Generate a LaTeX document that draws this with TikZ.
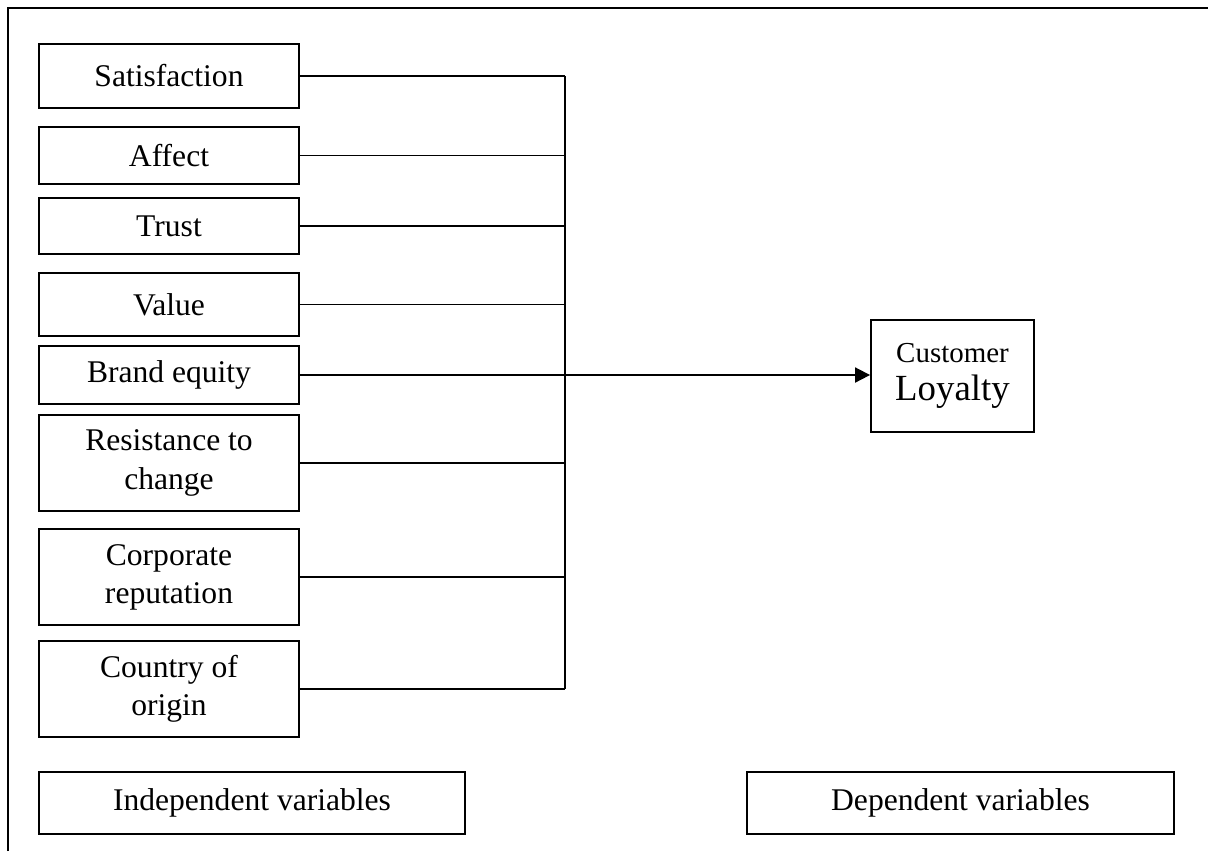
\documentclass[tikz,border=0pt]{standalone}
\usepackage{fontspec}
\setmainfont{Liberation Serif}
\usetikzlibrary{arrows.meta}
\newcommand{\pxu}{0.38pt}

\begin{document}
\begin{tikzpicture}[x=0.38pt,y=-0.38pt,
    every node/.style={inner sep=0pt,align=center,font=\fontsize{12}{14.5}\selectfont},
    var/.style={draw,line width=0.7pt,minimum width=260*\pxu},
    note/.style={draw,line width=0.7pt,minimum height=62*\pxu},
    link/.style={line width=0.7pt},
    >={Triangle[length=5.7pt,width=5.7pt]}]
    \useasboundingbox(0,0)rectangle(1208,851);
    \draw[line width=0.8pt](8,851)--(8,8)--(1208,8);
    % independent variables
    \node[var,minimum height=64*\pxu](sat)at(169,76){Satisfaction};
    \node[var,minimum height=57*\pxu](aff)at(169,155.5){Affect};
    \node[var,minimum height=56*\pxu](tru)at(169,226){Trust};
    \node[var,minimum height=63*\pxu](val)at(169,304.5){Value};
    \node[var,minimum height=58*\pxu](bra)at(169,375){Brand equity};
    \node[var,minimum height=96*\pxu](res)at(169,463){Resistance to\\change};
    \node[var,minimum height=96*\pxu](cor)at(169,577){Corporate\\reputation};
    \node[var,minimum height=96*\pxu](cou)at(169,689){Country of\\origin};
    % dependent variable
    \node[draw,line width=0.7pt,minimum width=163*\pxu,minimum height=112*\pxu]
        (loy)at(952.5,376){{\fontsize{11}{13}\selectfont Customer}\\
        {\fontsize{14}{16}\selectfont Loyalty}};
    % connectors
    \coordinate(trunk)at(565,0);
    \foreach \v in {sat,aff,tru,val,bra,res,cor,cou}
        \draw[link](\v.east)--(\v.east-|trunk);
    \draw[link](sat.east-|trunk)--(cou.east-|trunk);
    \draw[link,->](bra.east-|trunk)--(bra.east-|loy.west);
    % legend
    \node[note,minimum width=426*\pxu](ind)at(252,803){Independent variables};
    \node[note,minimum width=427*\pxu](dep)at(960.5,803){Dependent variables};
  \end{tikzpicture}
\end{document}
